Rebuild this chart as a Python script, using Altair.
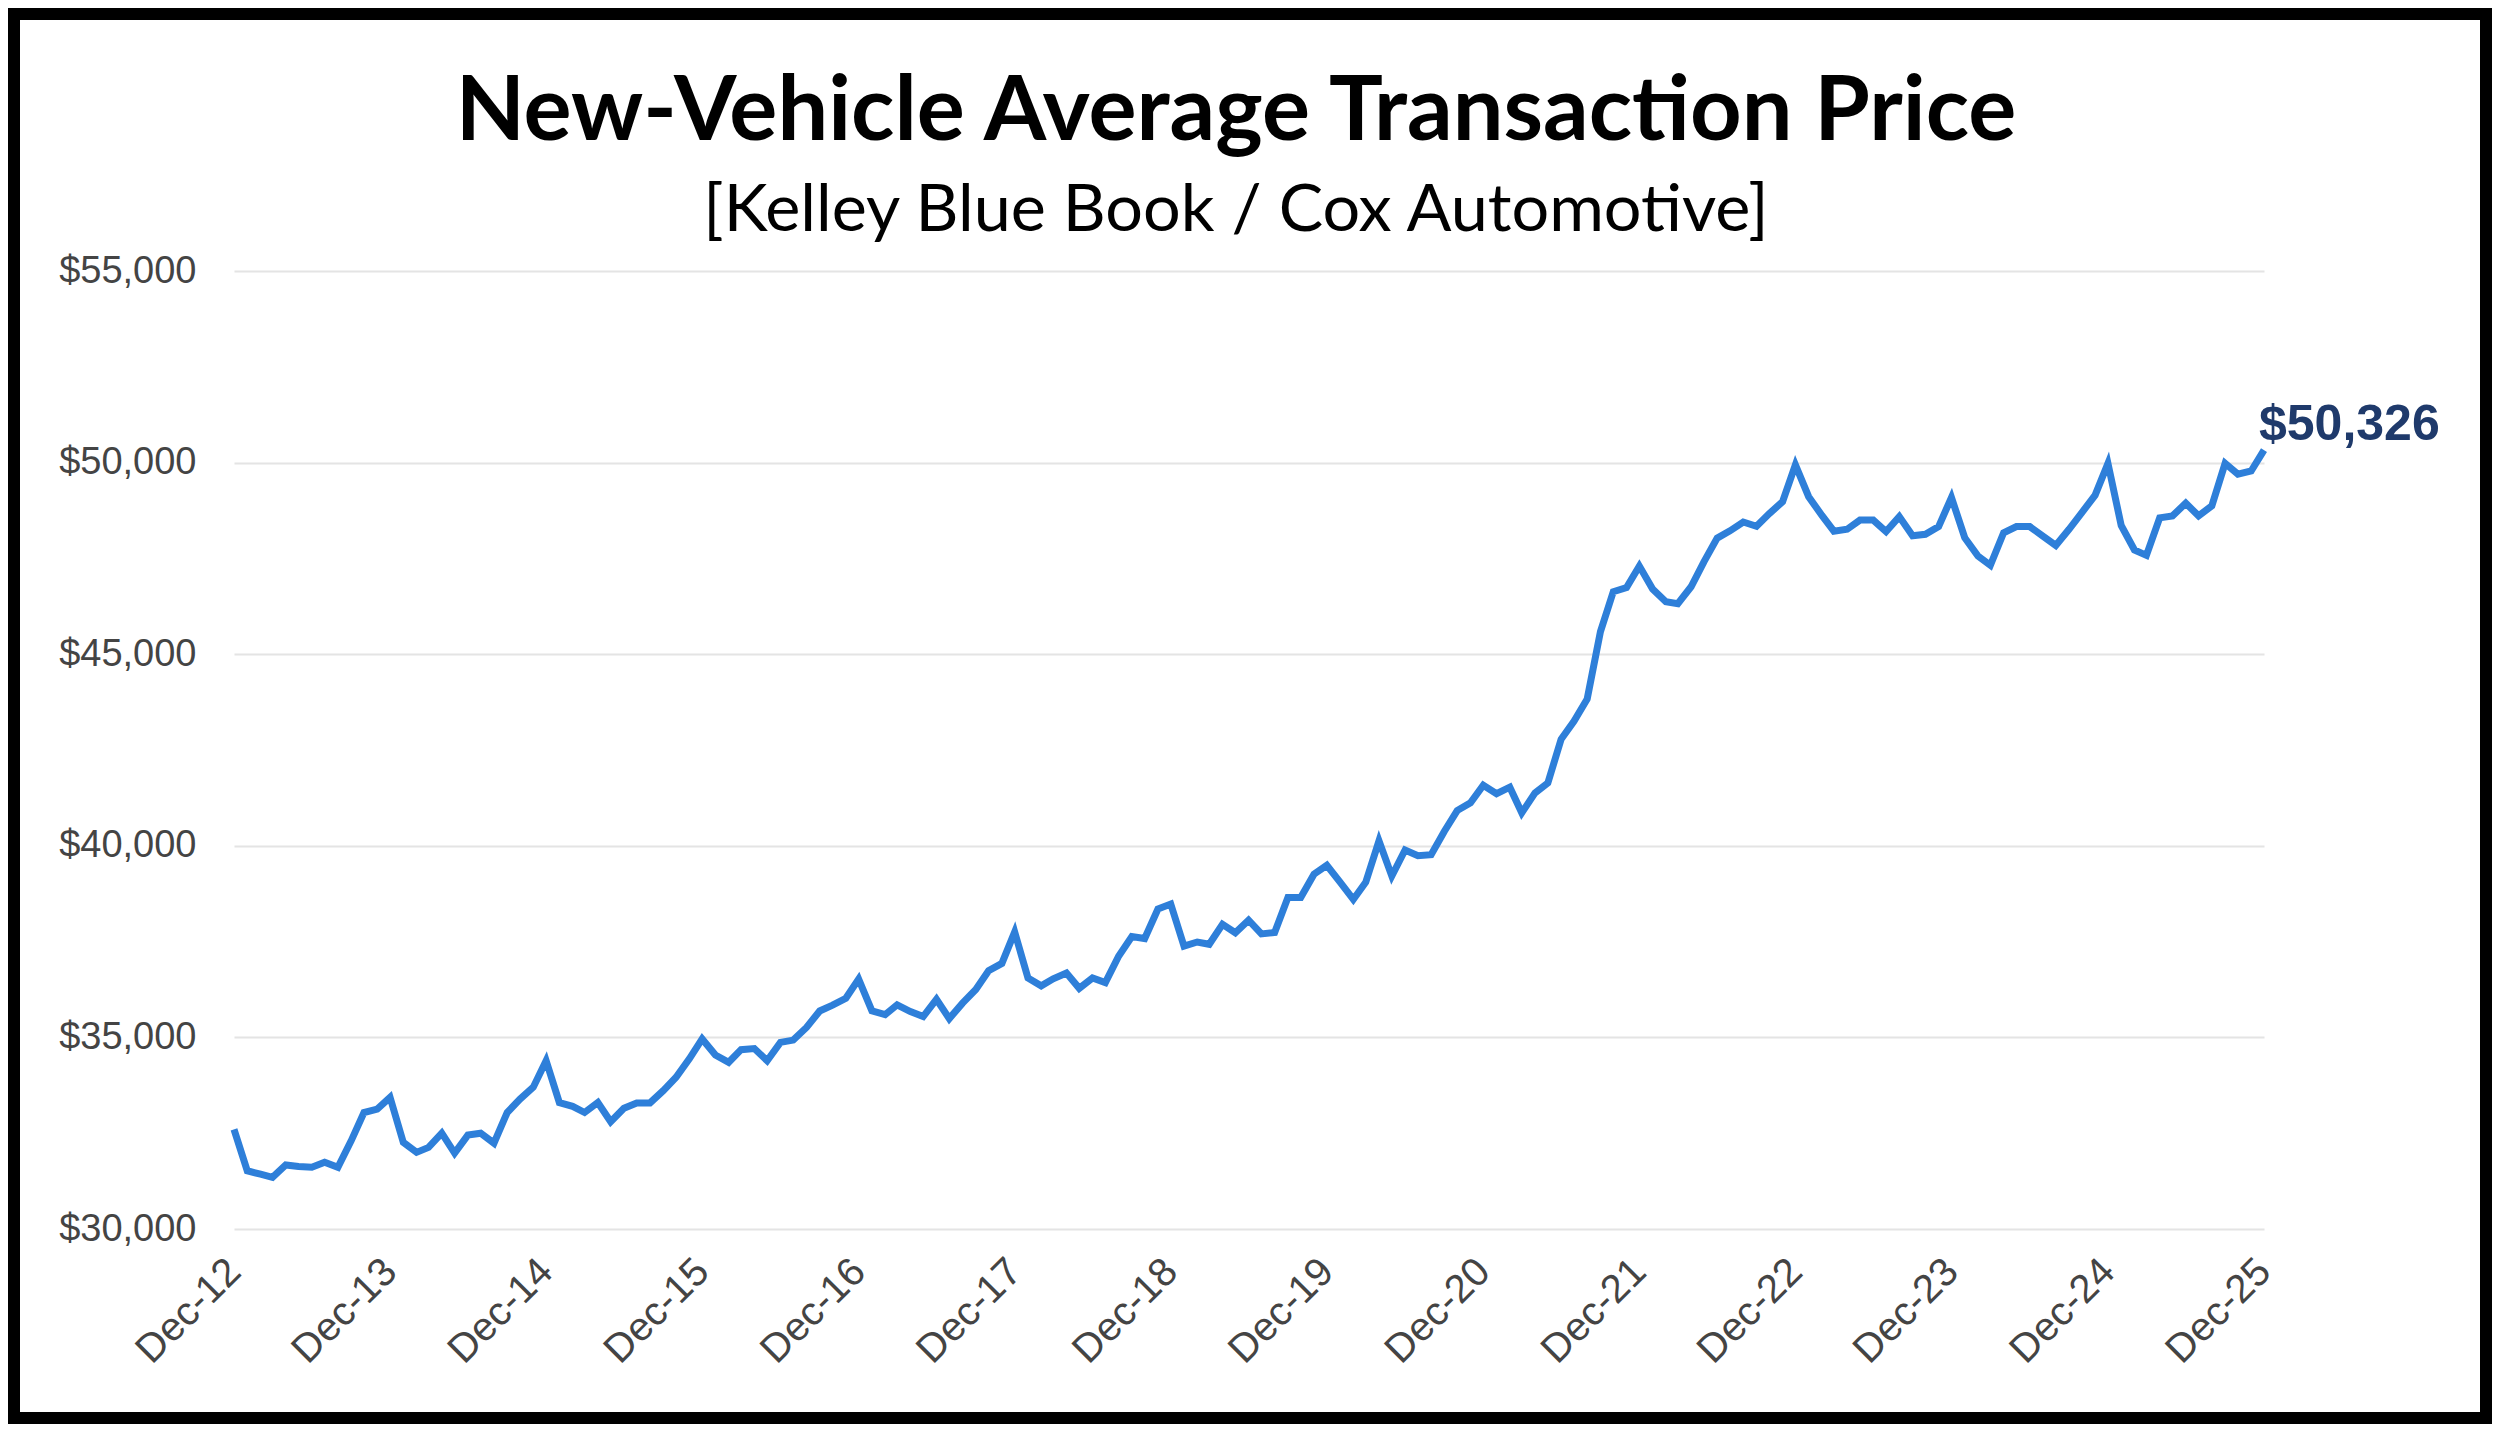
import altair as alt
import pandas as pd

# Monthly new-vehicle average transaction price (USD), Dec-2012 .. Dec-2025
atp_2012 = [32600]
atp_2013 = [31520, 31430, 31350, 31670, 31630, 31610, 31740, 31610, 32300, 33040, 33130, 33435]
atp_2014 = [32260, 32000, 32130, 32500, 31980, 32450, 32500, 32240, 33040, 33390, 33700, 34390]
atp_2015 = [33300, 33200, 33040, 33300, 32800, 33150, 33290, 33290, 33610, 33960, 34440, 34960]
atp_2016 = [34540, 34350, 34680, 34710, 34390, 34870, 34930, 35260, 35690, 35840, 36020, 36520]
atp_2017 = [35695, 35595, 35850, 35675, 35545, 35995, 35490, 35895, 36250, 36740, 36930, 37750]
atp_2018 = [36550, 36345, 36530, 36680, 36280, 36550, 36430, 37120, 37630, 37580, 38350, 38480]
atp_2019 = [37380, 37490, 37430, 37950, 37730, 38060, 37700, 37740, 38650, 38650, 39260, 39490]
atp_2020 = [39050, 38600, 39050, 40130, 39210, 39890, 39740, 39770, 40380, 40920, 41120, 41580]
atp_2021 = [41360, 41530, 40860, 41380, 41640, 42780, 43250, 43830, 45590, 46630, 46740, 47300]
atp_2022 = [46700, 46370, 46320, 46760, 47410, 48030, 48220, 48450, 48340, 48670, 48980, 49940]
atp_2023 = [49110, 48620, 48210, 48260, 48500, 48500, 48200, 48590, 48090, 48130, 48330, 49090]
atp_2024 = [48040, 47560, 47320, 48170, 48330, 48330, 48090, 47840, 48260, 48695, 49150, 49980]
atp_2025 = [48360, 47720, 47580, 48560, 48610, 48940, 48610, 48870, 49980, 49700, 49780, 50326]

tick_labels = ["Dec-12", "Dec-13", "Dec-14", "Dec-15", "Dec-16", "Dec-17", "Dec-18",
               "Dec-19", "Dec-20", "Dec-21", "Dec-22", "Dec-23", "Dec-24", "Dec-25"]
y_ticks = [30000, 35000, 40000, 45000, 50000, 55000]
last_label = "$50,326"
title_text = "New-Vehicle Average Transaction Price"
subtitle_text = "[Kelley Blue Book / Cox Automotive]"

values = (atp_2012 + atp_2013 + atp_2014 + atp_2015 + atp_2016 + atp_2017 + atp_2018 +
          atp_2019 + atp_2020 + atp_2021 + atp_2022 + atp_2023 + atp_2024 + atp_2025)
dates = pd.date_range("2012-12-01", periods=len(values), freq="MS")
df = pd.DataFrame({"date": dates.strftime("%Y-%m-%dT00:00:00"), "atp": values})

tick_dt = [pd.to_datetime("01-" + t, format="%d-%b-%y") for t in tick_labels]
tick_values = [alt.DateTime(year=d.year, month=d.month, date=1) for d in tick_dt]

W, H = 2030, 958
PL, PT, PR, PB = 226, 263, 228, 195

x_enc = alt.X(
    "date:T",
    title=None,
    scale=alt.Scale(domain=[tick_values[0], tick_values[-1]], nice=False),
    axis=alt.Axis(
        values=tick_values, format="%b-%y", labelAngle=-45, labelAlign="right",
        labelBaseline="middle", labelPadding=36, labelFont="Liberation Sans",
        labelFontSize=40, labelColor="#444444", ticks=False, domain=False,
        grid=False, labelOverlap=False,
    ),
)
y_enc = alt.Y(
    "atp:Q",
    title=None,
    scale=alt.Scale(domain=[y_ticks[0], y_ticks[-1]], nice=False, zero=False),
    axis=alt.Axis(
        values=y_ticks, format="$,d", labelFont="Liberation Sans", labelFontSize=38,
        labelColor="#444444", labelPadding=38, ticks=False, domain=False,
        grid=True, gridColor="#e4e4e4", gridWidth=2,
    ),
)

line = alt.Chart(df).mark_line(color="#2E7FD9", strokeWidth=7).encode(x=x_enc, y=y_enc)

label_df = df.tail(1).assign(label=last_label)
text = alt.Chart(label_df).mark_text(
    align="left", baseline="alphabetic", dx=-5, dy=-10,
    font="Liberation Sans", fontSize=50, fontWeight="bold", color="#1F3A6B",
).encode(x="date:T", y="atp:Q", text="label:N")

frame = alt.Chart(alt.Data(values=[{"k": 1}])).mark_rect(
    filled=False, stroke="black", strokeWidth=12,
).encode(
    x=alt.value(-PL + 6), x2=alt.value(W + PR - 6),
    y=alt.value(-PT + 6), y2=alt.value(H + PB - 6),
)

titles_df = pd.DataFrame({"t": [title_text]})
title_mark = alt.Chart(titles_df).mark_text(
    align="center", baseline="alphabetic", font="Lato", fontSize=90,
    fontWeight="bold", color="black",
).encode(x=alt.value(1002), y=alt.value(-131), text="t:N")

subtitles_df = pd.DataFrame({"s": [subtitle_text]})
subtitle_mark = alt.Chart(subtitles_df).mark_text(
    align="center", baseline="alphabetic", font="Lato", fontSize=66.5,
    fontWeight="normal", color="black",
).encode(x=alt.value(1002), y=alt.value(-40), text="s:N")

chart = alt.layer(frame, line, text, title_mark, subtitle_mark).properties(
    width=W, height=H,
    background="white",
    autosize=alt.AutoSizeParams(type="none"),
    padding={"left": PL, "top": PT, "right": PR, "bottom": PB},
).configure(
    view=alt.ViewConfig(stroke="transparent", strokeWidth=0),
)

chart.save("out.html", embed_options={"renderer": "svg", "actions": False})
